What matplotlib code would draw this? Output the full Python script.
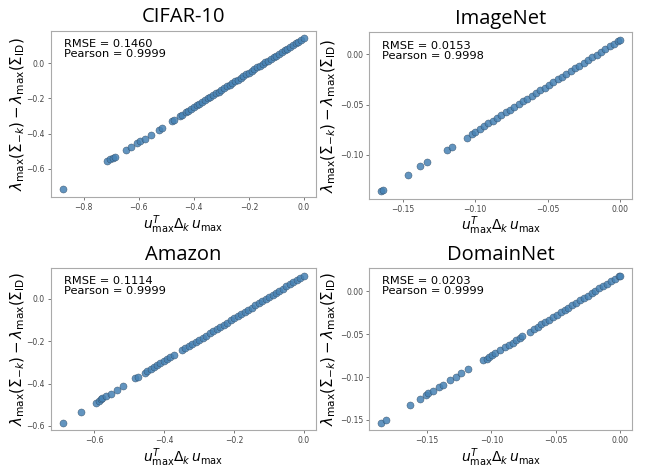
import matplotlib
matplotlib.use("Agg")
import matplotlib.pyplot as plt
from matplotlib.ticker import MultipleLocator

# values
titles = ["CIFAR-10", "ImageNet", "Amazon", "DomainNet"]
rmse = [0.1460, 0.0153, 0.1114, 0.0203]
pearson = [0.9999, 0.9998, 0.9999, 0.9999]
tick_steps = [0.2, 0.05, 0.2, 0.05]

cifar_x = [-0.876, -0.716, -0.704, -0.692, -0.686, -0.646, -0.629, -0.606, -0.596,
           -0.578, -0.557, -0.527, -0.514, -0.478, -0.472, -0.451, -0.442,
           -0.43, -0.42, -0.41, -0.40, -0.39, -0.38, -0.37, -0.36, -0.35, -0.34,
           -0.33, -0.32, -0.31, -0.30, -0.29, -0.28, -0.27, -0.26, -0.25, -0.24,
           -0.23, -0.22, -0.21, -0.20, -0.19, -0.18, -0.17, -0.16, -0.15, -0.14,
           -0.13, -0.12, -0.11, -0.10, -0.09, -0.08, -0.07, -0.06, -0.05, -0.04,
           -0.03, -0.02, -0.01, 0.00]
cifar_y = [-0.717, -0.553, -0.544, -0.537, -0.531, -0.492, -0.477, -0.451, -0.442,
           -0.429, -0.408, -0.380, -0.367, -0.330, -0.322, -0.302, -0.293,
           -0.279, -0.269, -0.259, -0.249, -0.239, -0.230, -0.220, -0.210, -0.200, -0.191,
           -0.181, -0.171, -0.161, -0.151, -0.142, -0.132, -0.122, -0.112, -0.103, -0.093,
           -0.083, -0.073, -0.063, -0.054, -0.044, -0.034, -0.024, -0.014, -0.005, 0.005,
           0.015, 0.025, 0.034, 0.044, 0.054, 0.064, 0.074, 0.083, 0.093, 0.103,
           0.113, 0.122, 0.132, 0.142]

imagenet_x = [-0.1650, -0.1635, -0.1465, -0.1385, -0.1335, -0.1195, -0.1160, -0.1060,
              -0.1020, -0.100, -0.097, -0.094, -0.091, -0.088, -0.085, -0.082, -0.079,
              -0.076, -0.073, -0.070, -0.067, -0.064, -0.061, -0.058, -0.055, -0.052,
              -0.049, -0.046, -0.043, -0.040, -0.037, -0.034, -0.031, -0.028, -0.025,
              -0.022, -0.019, -0.016, -0.013, -0.010, -0.007, -0.004, -0.001, 0.000]
imagenet_y = [-0.1365, -0.1350, -0.1200, -0.1115, -0.1075, -0.0950, -0.0920, -0.0830,
              -0.0790, -0.0771, -0.0744, -0.0716, -0.0689, -0.0661, -0.0634, -0.0606, -0.0579,
              -0.0551, -0.0524, -0.0497, -0.0469, -0.0442, -0.0414, -0.0387, -0.0359, -0.0332,
              -0.0304, -0.0277, -0.0249, -0.0222, -0.0195, -0.0167, -0.0140, -0.0112, -0.0085,
              -0.0057, -0.0030, -0.0002, 0.0025, 0.0053, 0.0080, 0.0107, 0.0135, 0.0144]

amazon_x = [-0.690, -0.637, -0.596, -0.586, -0.582, -0.577, -0.567, -0.553, -0.534,
            -0.517, -0.482, -0.475, -0.455, -0.449, -0.439, -0.430, -0.420, -0.411,
            -0.401, -0.392, -0.382, -0.371, -0.349,
            -0.34, -0.33, -0.32, -0.31, -0.30, -0.29, -0.28, -0.27, -0.26, -0.25,
            -0.24, -0.23, -0.22, -0.21, -0.20, -0.19, -0.18, -0.17, -0.16, -0.15,
            -0.14, -0.13, -0.12, -0.11, -0.10, -0.09, -0.08, -0.07, -0.06, -0.05,
            -0.04, -0.03, -0.02, -0.01, 0.00]
amazon_y = [-0.585, -0.532, -0.491, -0.482, -0.473, -0.470, -0.458, -0.448, -0.429,
            -0.413, -0.376, -0.367, -0.349, -0.342, -0.331, -0.322, -0.313, -0.304,
            -0.295, -0.285, -0.276, -0.266, -0.243,
            -0.233, -0.223, -0.213, -0.203, -0.193, -0.183, -0.173, -0.163, -0.153, -0.143,
            -0.132, -0.122, -0.112, -0.102, -0.092, -0.082, -0.072, -0.062, -0.052, -0.042,
            -0.031, -0.021, -0.011, -0.001, 0.009, 0.019, 0.029, 0.039, 0.049, 0.060,
            0.070, 0.080, 0.090, 0.100, 0.110]

domainnet_x = [-0.1857, -0.1822, -0.1636, -0.1552, -0.1510, -0.1491, -0.1455, -0.1405,
               -0.1374, -0.1319, -0.1274, -0.1235, -0.1180, -0.1062, -0.1036, -0.1017,
               -0.0991, -0.0975, -0.0936, -0.0897, -0.0866, -0.0834, -0.0805, -0.0780,
               -0.0760, -0.070, -0.067, -0.064, -0.061, -0.058, -0.055, -0.052, -0.049,
               -0.046, -0.043, -0.040, -0.037, -0.034, -0.031, -0.028, -0.025, -0.022,
               -0.019, -0.016, -0.013, -0.010, -0.007, -0.004, -0.001, 0.000]
domainnet_y = [-0.1534, -0.1505, -0.1327, -0.1256, -0.1215, -0.1189, -0.1162, -0.1117,
               -0.1091, -0.1039, -0.0994, -0.0956, -0.0907, -0.0806, -0.0784, -0.0765,
               -0.0739, -0.0720, -0.0690, -0.0652, -0.0622, -0.0597, -0.0570, -0.0547,
               -0.0525, -0.0470, -0.0441, -0.0413, -0.0385, -0.0357, -0.0329, -0.0301, -0.0273,
               -0.0245, -0.0217, -0.0189, -0.0161, -0.0133, -0.0105, -0.0077, -0.0049, -0.0021,
               0.0007, 0.0035, 0.0063, 0.0092, 0.0120, 0.0148, 0.0176, 0.0185]

xs = [cifar_x, imagenet_x, amazon_x, domainnet_x]
ys = [cifar_y, imagenet_y, amazon_y, domainnet_y]

fig = plt.figure(figsize=(6.46, 4.69), dpi=100)
boxes = [[0.0785, 0.5800, 0.4107, 0.3545],
         [0.5717, 0.5760, 0.4062, 0.3550],
         [0.0785, 0.0830, 0.4107, 0.3450],
         [0.5717, 0.0830, 0.4062, 0.3450]]
ylabel_x = [-0.088, -0.118, -0.088, -0.118]

for i in range(4):
    ax = fig.add_axes(boxes[i])
    ax.scatter(xs[i], ys[i], s=26, color="#4682b4", edgecolor="#2b3f55",
               linewidth=0.3, alpha=0.85)
    ax.xaxis.set_major_locator(MultipleLocator(tick_steps[i]))
    ax.yaxis.set_major_locator(MultipleLocator(tick_steps[i]))
    ax.set_title(titles[i], fontsize=14.5, family="Open Sans", pad=6)
    ax.set_xlabel(r"$u_{\max}^{T}\Delta_k\, u_{\max}$", fontsize=10, labelpad=0.5)
    ax.set_ylabel(r"$\lambda_{\max}(\Sigma_{-k}) - \lambda_{\max}(\Sigma_{\mathrm{ID}})$",
                  fontsize=10.8)
    ax.yaxis.set_label_coords(ylabel_x[i], 0.5)
    ax.text(0.05, 0.95, "RMSE = %.4f\nPearson = %.4f" % (rmse[i], pearson[i]),
            transform=ax.transAxes, fontsize=8.2, va="top", ha="left", linespacing=1.0)
    ax.tick_params(labelsize=5.5, length=2.5, width=0.5, colors="#444444", pad=2)
    for sp in ax.spines.values():
        sp.set_color("#aaaaaa")
        sp.set_linewidth(0.8)

fig.savefig("out.png", dpi=100)
